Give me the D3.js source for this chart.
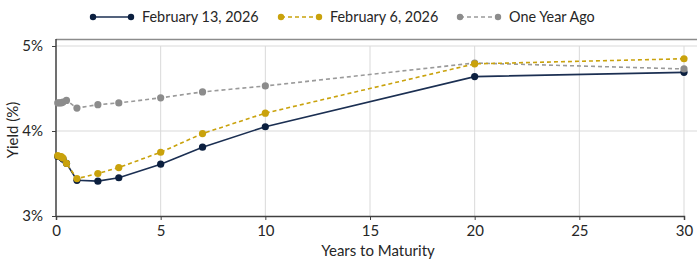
<!DOCTYPE html>
<html>
<head>
<meta charset="utf-8">
<script src="https://cdn.jsdelivr.net/npm/d3@7"></script>
<style>
  body { margin: 0; background: #fff; }
  svg { display: block; font-family: "Lato", "Open Sans", sans-serif; }
</style>
</head>
<body>
<div id="chart"></div>
<script>
// maturities in years: 1M 2M 3M 4M 6M 1Y 2Y 3Y 5Y 7Y 10Y 20Y 30Y
var maturities = [0.083, 0.167, 0.25, 0.333, 0.5, 1, 2, 3, 5, 7, 10, 20, 30];

// yields in percent
var feb13 = [3.70, 3.70, 3.69, 3.67, 3.62, 3.42, 3.41, 3.45, 3.61, 3.81, 4.05, 4.64, 4.69];
var feb6  = [3.71, 3.70, 3.70, 3.68, 3.62, 3.44, 3.50, 3.57, 3.75, 3.97, 4.21, 4.79, 4.85];
var yearAgo = [4.33, 4.33, 4.33, 4.34, 4.36, 4.27, 4.31, 4.33, 4.39, 4.46, 4.53, 4.80, 4.73];

var seriesNames = ["February 13, 2026", "February 6, 2026", "One Year Ago"];
var xTicks = [0, 5, 10, 15, 20, 25, 30];
var yTicks = [3, 4, 5];

function init()
  {
  var width = 697, height = 259;
  var margin = {left: 56, right: 13, top: 46, bottom: 43};

  var svg = d3.select("#chart").append("svg")
    .attr("width", width)
    .attr("height", height);

  var x = d3.scaleLinear().domain([0, 30]).range([margin.left, width - margin.right]);
  var y = d3.scaleLinear().domain([3, 5]).range([height - margin.bottom, margin.top]);

  //gridlines
  svg.append("g").selectAll("line.vg")
    .data(xTicks.slice(1))
    .enter().append("line")
    .attr("x1", d => x(d)).attr("x2", d => x(d))
    .attr("y1", y(5)).attr("y2", y(3))
    .attr("stroke", "#d9d9d9").attr("stroke-width", 1);

  svg.append("g").selectAll("line.hg")
    .data(yTicks.slice(1))
    .enter().append("line")
    .attr("x1", x(0)).attr("x2", width)
    .attr("y1", d => y(d)).attr("y2", d => y(d))
    .attr("stroke", "#d9d9d9").attr("stroke-width", 1);

  //top frame line
  svg.append("line")
    .attr("x1", x(0)).attr("x2", width)
    .attr("y1", 39.5).attr("y2", 39.5)
    .attr("stroke", "#8c8c8c").attr("stroke-width", 1.5);

  //axes
  var xAxis = svg.append("g")
    .attr("transform", "translate(0," + y(3) + ")")
    .call(d3.axisBottom(x).tickValues(xTicks).tickSize(4).tickPadding(5).tickFormat(d3.format("d")));
  var yAxis = svg.append("g")
    .attr("transform", "translate(" + x(0) + ",0)")
    .call(d3.axisLeft(y).tickValues(yTicks).tickSize(4).tickPadding(9).tickFormat(d => d + "%"));

  [xAxis, yAxis].forEach(function(a)
    {
    a.select(".domain").attr("stroke", "#404040").attr("stroke-width", 1.5);
    a.selectAll(".tick line").attr("stroke", "#404040");
    a.selectAll("text").attr("fill", "#262626").style("font-size", "15px").style("font-family", "Lato, sans-serif");
    });
  yAxis.select(".domain").attr("d", "M0," + (y(5) - 7) + "V" + y(3));

  //axis titles
  svg.append("text")
    .attr("x", 378).attr("y", 256)
    .attr("text-anchor", "middle")
    .attr("fill", "#262626")
    .style("font-size", "15px")
    .text("Years to Maturity");

  svg.append("text")
    .attr("transform", "translate(18," + 130 + ") rotate(-90)")
    .attr("text-anchor", "middle")
    .attr("fill", "#262626")
    .style("font-size", "15px")
    .text("Yield (%)");

  //series
  var series = [
    {name: seriesNames[0], values: feb13, color: "#0b1f3f", line: "#1b2f52", dash: null},
    {name: seriesNames[1], values: feb6, color: "#c9a20c", line: "#c9a20c", dash: "4,3"},
    {name: seriesNames[2], values: yearAgo, color: "#8c8c8c", line: "#9a9a9a", dash: "4,3"}
  ];

  var line = d3.line().x(d => x(d[0])).y(d => y(d[1]));

  //draw order: navy at back, then gray, gold on top
  [series[0], series[2], series[1]].forEach(function(s)
    {
    var pts = maturities.map((m, i) => [m, s.values[i]]);
    var g = svg.append("g");
    g.append("path")
      .attr("d", line(pts))
      .attr("fill", "none")
      .attr("stroke", s.line)
      .attr("stroke-width", 1.6)
      .attr("stroke-dasharray", s.dash);
    g.selectAll("circle")
      .data(pts)
      .enter().append("circle")
      .attr("cx", d => x(d[0])).attr("cy", d => y(d[1]))
      .attr("r", 3.6)
      .attr("fill", s.color);
    });

  //legend
  var legendX = [93, 281, 460];
  series.forEach(function(s, i)
    {
    var lg = svg.append("g").attr("transform", "translate(" + legendX[i] + ",17)");
    lg.append("line")
      .attr("x1", 0).attr("x2", 38)
      .attr("stroke", s.line).attr("stroke-width", 1.6)
      .attr("stroke-dasharray", s.dash);
    lg.selectAll("circle").data([0, 38]).enter().append("circle")
      .attr("cx", d => d).attr("r", 3.2).attr("fill", s.color);
    lg.append("text")
      .attr("x", 49).attr("y", 5)
      .attr("fill", "#262626")
      .style("font-size", "14.4px")
      .text(s.name);
    });
  }

init();
</script>
</body>
</html>
